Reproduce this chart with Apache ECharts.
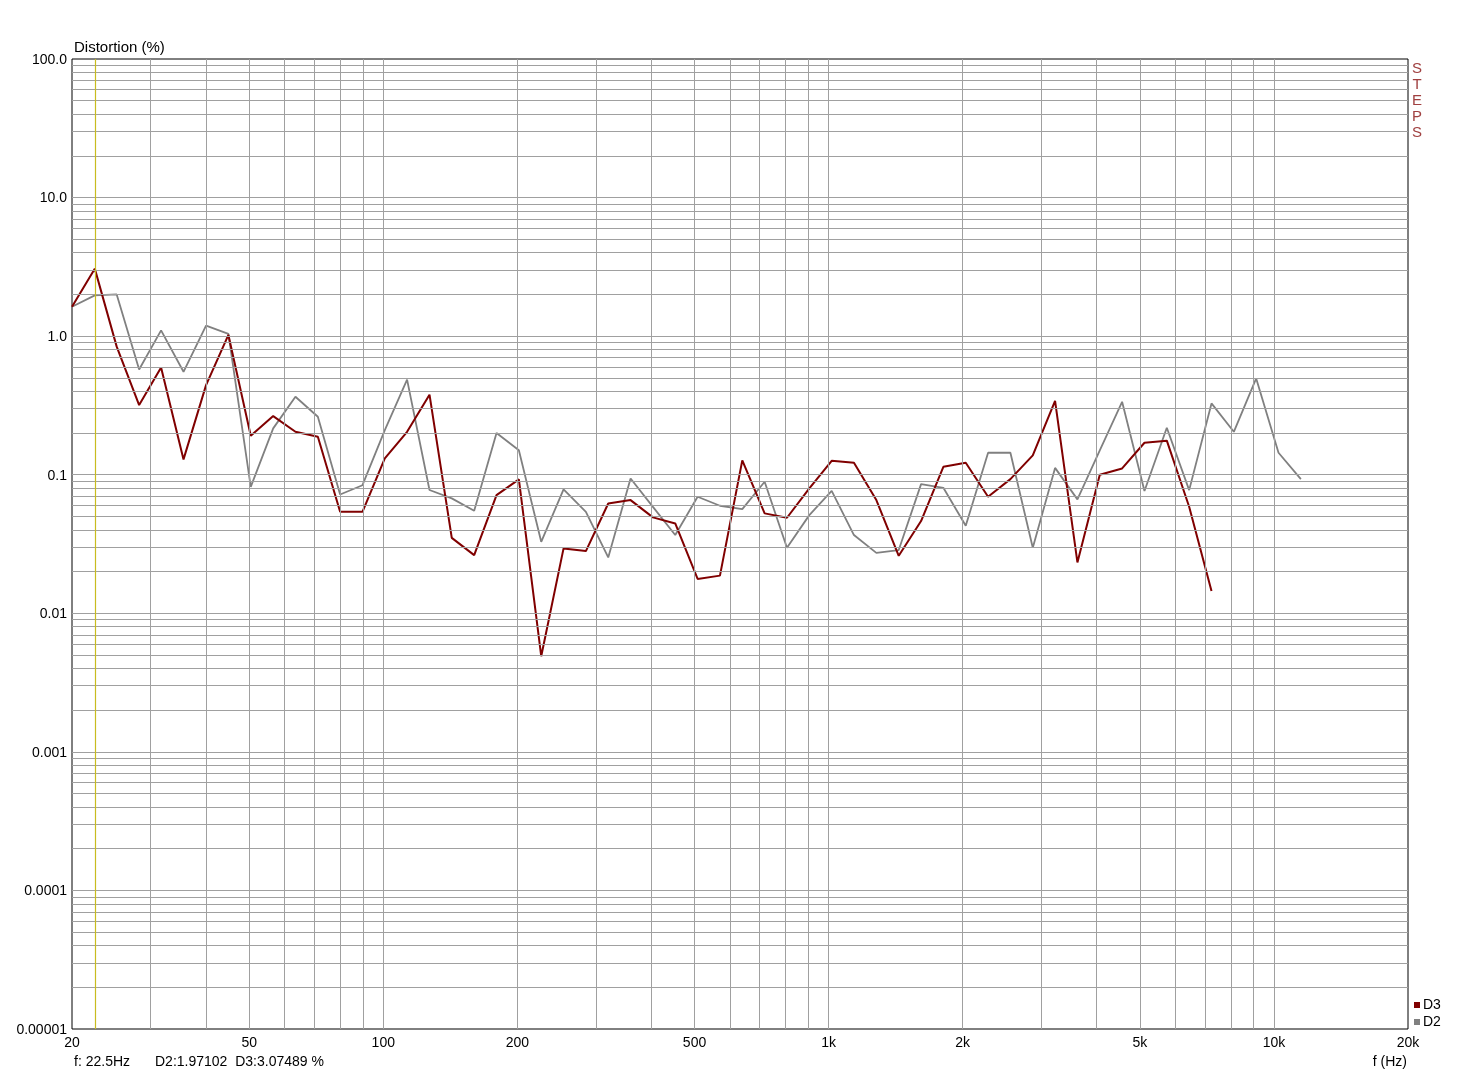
<!DOCTYPE html>
<html><head><meta charset="utf-8">
<script src="https://cdn.jsdelivr.net/npm/echarts@6/dist/echarts.min.js"></script>
<style>html,body{margin:0;padding:0;background:#fff}#c{width:1468px;height:1088px}</style>
</head><body><div id="c"></div><script>
// Frequencies (Hz), 1/6-octave steps
const freqs = [20, 22.5, 25.2, 28.3, 31.7, 35.6, 40, 44.9, 50.4, 56.6, 63.5, 71.3, 80, 89.8, 100.8, 113.1, 127, 142.5, 160, 179.6,
  201.6, 226.3, 254, 285.1, 320, 359.2, 403.2, 452.5, 508, 570.2, 640, 718.4, 806.3, 905.1, 1016, 1140, 1280, 1437, 1613, 1810,
  2032, 2281, 2560, 2874, 3225, 3620, 4064, 4561, 5120, 5747, 6451, 7241, 8127, 9123, 10240, 11494];
// D3 distortion (%)
const d3Values = [1.63, 3.07, 0.84, 0.318, 0.594, 0.129, 0.443, 1.02, 0.191, 0.265, 0.204, 0.188, 0.054, 0.054, 0.131, 0.204, 0.378, 0.035, 0.0263, 0.0712,
  0.0925, 0.0049, 0.0294, 0.0281, 0.062, 0.0656, 0.0492, 0.0445, 0.0177, 0.0187, 0.127, 0.0526, 0.0489, 0.0796, 0.126, 0.122, 0.0656, 0.026, 0.0463, 0.114,
  0.122, 0.0693, 0.0929, 0.138, 0.341, 0.0233, 0.100, 0.111, 0.170, 0.176, 0.0587, 0.0145];
// D2 distortion (%)
const d2Values = [1.63, 1.97, 2.0, 0.575, 1.10, 0.553, 1.19, 1.04, 0.0818, 0.216, 0.365, 0.262, 0.072, 0.084, 0.21, 0.485, 0.0776, 0.0675, 0.0549, 0.200,
  0.150, 0.0328, 0.0783, 0.054, 0.0253, 0.094, 0.0586, 0.0367, 0.0693, 0.0597, 0.0565, 0.0889, 0.0297, 0.0511, 0.0765, 0.0367, 0.0273, 0.0286, 0.0855, 0.0805,
  0.0428, 0.144, 0.144, 0.0297, 0.112, 0.0664, 0.150, 0.336, 0.0762, 0.218, 0.0774, 0.327, 0.204, 0.495, 0.144, 0.0929];
const xTickValues = [20, 50, 100, 200, 500, 1000, 2000, 5000, 10000, 20000];
const xTickLabels = ['20', '50', '100', '200', '500', '1k', '2k', '5k', '10k', '20k'];
const yTickValues = [100, 10, 1, 0.1, 0.01, 0.001, 0.0001, 0.00001];
const yTickLabels = ['100.0', '10.0', '1.0', '0.1', '0.01', '0.001', '0.0001', '0.00001'];
const cursorFreq = 22.5;
const cursorText = 'f: 22.5Hz';
const readoutText = 'D2:1.97102  D3:3.07489 %';

const FONT = '"Liberation Sans", Arial, sans-serif';
const GRID_C = '#a0a0a0';

// grid lines (1..9 per decade)
const gridLines = [];
[10, 100, 1000, 10000].forEach(dec => {
  for (let m = 1; m <= 9; m++) {
    const v = m * dec;
    if (v > 20 && v < 20000) gridLines.push({ xAxis: v });
  }
});
[1e-5, 1e-4, 1e-3, 1e-2, 1e-1, 1, 10].forEach(dec => {
  for (let m = 1; m <= 9; m++) {
    const v = parseFloat((m * dec).toPrecision(6));
    if (v > 1e-5 && v < 100) gridLines.push({ yAxis: v });
  }
});

const chart = echarts.init(document.getElementById('c'), null, { renderer: 'canvas' });
chart.setOption({
  animation: false,
  backgroundColor: '#fff',
  grid: { left: 72, top: 59, right: 60, bottom: 59, show: true, borderColor: '#000', borderWidth: 1, backgroundColor: 'transparent' },
  xAxis: { type: 'log', logBase: 10, min: 20, max: 20000, axisLine: { show: false }, axisTick: { show: false }, axisLabel: { show: false }, splitLine: { show: false } },
  yAxis: { type: 'log', logBase: 10, min: 0.00001, max: 100, axisLine: { show: false }, axisTick: { show: false }, axisLabel: { show: false }, splitLine: { show: false } },
  legend: {
    data: ['D3', 'D2'], orient: 'vertical', left: 1409, top: 993, itemWidth: 6, itemHeight: 6, itemGap: 3, icon: 'rect',
    textStyle: { fontSize: 14, fontFamily: FONT, color: '#000', padding: [0, 0, 0, -2] }
  },
  series: [
    {
      name: 'grid', type: 'line', data: [], silent: true, z: 1,
      markLine: {
        silent: true, symbol: 'none', animation: false, precision: 12,
        lineStyle: { color: GRID_C, width: 1, type: 'solid' },
        label: { show: false },
        data: gridLines
      }
    },
    {
      name: 'cursor', type: 'line', data: [], silent: true, z: 2,
      markLine: {
        silent: true, symbol: 'none', animation: false, precision: 12,
        lineStyle: { color: '#c8bc20', width: 1.2, type: 'solid', opacity: 1 },
        label: { show: false },
        data: [{ xAxis: cursorFreq }]
      }
    },
    {
      name: 'D2', type: 'line', z: 3, showSymbol: false, symbol: 'none',
      color: '#808080', lineStyle: { color: '#808080', width: 1.8 },
      data: d2Values.map((v, i) => [freqs[i], v])
    },
    {
      name: 'D3', type: 'line', z: 4, showSymbol: false, symbol: 'none',
      color: '#800000', lineStyle: { color: '#800000', width: 2 },
      data: d3Values.map((v, i) => [freqs[i], v])
    }
  ]
});

// tick labels positioned through the chart's own axis scales
const gridBottom = 1088 - 59, gridLeft = 72;
const g = [];
xTickValues.forEach((v, i) => {
  const px = chart.convertToPixel({ xAxisIndex: 0 }, v);
  g.push({ type: 'text', x: px, y: gridBottom + 14, style: { text: xTickLabels[i], font: '14px ' + FONT, fill: '#000', align: 'center', verticalAlign: 'middle' } });
});
yTickValues.forEach((v, i) => {
  const py = chart.convertToPixel({ yAxisIndex: 0 }, v);
  g.push({ type: 'text', x: gridLeft - 5, y: py + 1, style: { text: yTickLabels[i], font: '14px ' + FONT, fill: '#000', align: 'right', verticalAlign: 'middle' } });
});
g.push(
  { type: 'text', x: 74, y: 48, style: { text: 'Distortion (%)', font: '15px ' + FONT, fill: '#000', align: 'left', verticalAlign: 'middle' } },
  { type: 'text', x: 74, y: 1062, style: { text: cursorText, font: '14px ' + FONT, fill: '#000', align: 'left', verticalAlign: 'middle' } },
  { type: 'text', x: 155, y: 1062, style: { text: readoutText, font: '14px ' + FONT, fill: '#000', align: 'left', verticalAlign: 'middle' } },
  { type: 'text', x: 1407, y: 1062, style: { text: 'f (Hz)', font: '14px ' + FONT, fill: '#000', align: 'right', verticalAlign: 'middle' } },
  { type: 'text', x: 1417, y: 61, style: { text: 'S\nT\nE\nP\nS', font: '15px ' + FONT, fill: '#a04040', align: 'center', verticalAlign: 'top', lineHeight: 16 } }
);
chart.setOption({ graphic: g });
</script></body></html>
